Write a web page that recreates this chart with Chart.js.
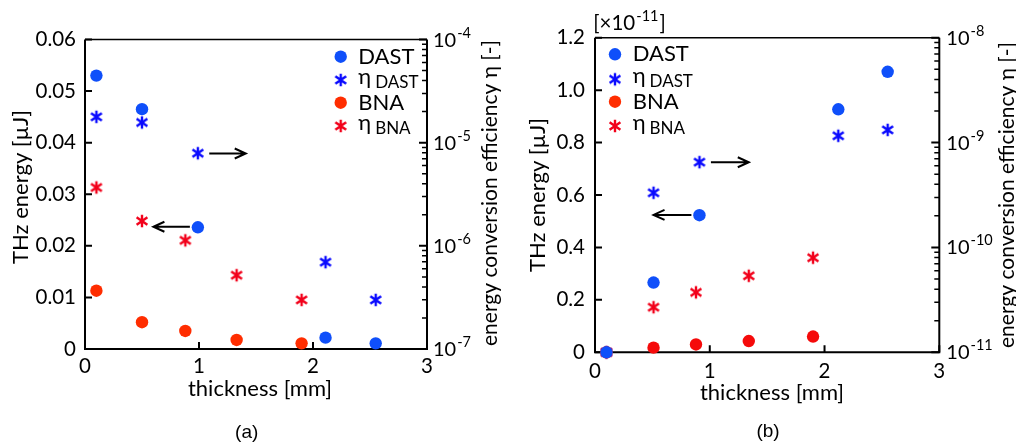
<!DOCTYPE html>
<html><head><meta charset="utf-8">
<script src="https://cdn.jsdelivr.net/npm/chart.js@4.4.0/dist/chart.umd.min.js"></script>
<style>
html,body{margin:0;padding:0;background:#fff;}
#wrap{position:relative;width:1016px;height:446px;overflow:hidden;background:#fff;}
canvas{position:absolute;top:0;}
#ca{left:0;}
#cb{left:508px;}
</style></head><body>
<div id="wrap"><canvas id="ca" width="508" height="446"></canvas><canvas id="cb" width="508" height="446"></canvas></div>
<script>
// ---------- Panel (a) data ----------
const thicknessA_DAST = [0.10, 0.50, 0.99, 2.11, 2.55];
const energyA_DAST    = [0.0530, 0.0465, 0.0236, 0.0022, 0.0011];
const etaA_DAST       = [1.78e-5, 1.57e-5, 7.9e-6, 6.95e-7, 2.99e-7];
const thicknessA_BNA  = [0.10, 0.50, 0.88, 1.33, 1.90];
const energyA_BNA     = [0.0113, 0.0052, 0.0035, 0.00175, 0.0011];
const etaA_BNA        = [3.68e-6, 1.74e-6, 1.13e-6, 5.19e-7, 2.99e-7];

// ---------- Panel (b) data ----------
const thicknessB_DAST = [0.10, 0.51, 0.91, 2.12, 2.55];
const energyB_DAST    = [0, 0.266, 0.523, 0.927, 1.07];
const etaB_DAST       = [1e-11, 3.32e-10, 6.5e-10, 1.16e-9, 1.32e-9];
const thicknessB_BNA  = [0.10, 0.51, 0.88, 1.34, 1.90];
const energyB_BNA     = [0, 0.0177, 0.030, 0.043, 0.060];
const etaB_BNA        = [1e-11, 2.69e-11, 3.73e-11, 5.37e-11, 7.98e-11];

// ---------- tick labels ----------
const xTickValues   = [0, 1, 2, 3];
const xTickLabels   = ['0', '1', '2', '3'];
const yTickValuesA  = [0, 0.01, 0.02, 0.03, 0.04, 0.05, 0.06];
const yTickLabelsA  = ['0', '0.01', '0.02', '0.03', '0.04', '0.05', '0.06'];
const yTickValuesB  = [0, 0.2, 0.4, 0.6, 0.8, 1.0, 1.2];
const yTickLabelsB  = ['0', '0.2', '0.4', '0.6', '0.8', '1.0', '1.2'];
const logExpA       = [-7, -6, -5, -4];
const logExpB       = [-11, -10, -9, -8];

// ---------- annotation arrows (data coords: x0, x1, y on left axis) ----------
const arrowsA = [[1.09, 1.41, 0.0379], [0.92, 0.60, 0.0237]];
const arrowsB = [[1.01, 1.34, 0.725], [0.84, 0.51, 0.524]];

const FONT = 'Lato, "Noto Sans", "DejaVu Sans", sans-serif';
const C_BLUE_DOT = '#0f4ffa';
const C_BLUE_STAR = '#0a0aff';
const C_ORANGE_DOT = '#ff2d00';
const C_RED_DOT = '#f50a0a';
const C_RED_STAR = '#f2001a';

function makeStar(color) {
  const c = document.createElement('canvas');
  c.width = 16; c.height = 16;
  const g = c.getContext('2d');
  g.strokeStyle = color; g.lineWidth = 2.4;
  g.beginPath();
  g.moveTo(8, 1.8); g.lineTo(8, 14.2);
  g.moveTo(2.6, 4.2); g.lineTo(13.4, 11.8);
  g.moveTo(13.4, 4.2); g.lineTo(2.6, 11.8);
  g.stroke();
  return c;
}
const starBlue = makeStar(C_BLUE_STAR);
const starRed = makeStar(C_RED_STAR);

function pts(xs, ys) { return xs.map((x, i) => ({x: x, y: ys[i]})); }

function dotSet(label, xs, ys, color) {
  return {label, data: pts(xs, ys), yAxisID: 'y', pointStyle: 'circle', pointRadius: 6.2,
    backgroundColor: color, borderWidth: 0, showLine: false, clip: false};
}
function starSet(label, xs, ys, img) {
  return {label, data: pts(xs, ys), yAxisID: 'y2', pointStyle: img, pointRadius: 8,
    borderWidth: 0, showLine: false, clip: false};
}

function drawArrow(ctx, x0, x1, y) {
  const dir = Math.sign(x1 - x0);
  ctx.beginPath();
  ctx.moveTo(x0, y); ctx.lineTo(x1, y);
  ctx.moveTo(x1 - dir * 11, y - 5); ctx.lineTo(x1, y); ctx.lineTo(x1 - dir * 11, y + 5);
  ctx.stroke();
}

function makePlugin(P) {
  return {
    id: 'deco' + P.id,
    beforeDatasetsDraw(chart) {
      const ctx = chart.ctx, a = chart.chartArea;
      const sx = chart.scales.x, sy = chart.scales.y, s2 = chart.scales.y2;
      ctx.save();
      ctx.strokeStyle = '#000';
      ctx.lineWidth = 2;
      ctx.beginPath();
      P.yTicks.forEach(v => { const y = sy.getPixelForValue(v); ctx.moveTo(a.left, y); ctx.lineTo(a.left + 7, y); });
      xTickValues.forEach(v => { const x = sx.getPixelForValue(v); ctx.moveTo(x, a.bottom); ctx.lineTo(x, a.bottom - 7); });
      P.logExp.forEach(e => { const y = s2.getPixelForValue(Math.pow(10, e)); ctx.moveTo(a.right, y); ctx.lineTo(a.right - 8, y); });
      ctx.stroke();
      ctx.lineWidth = 1.5;
      ctx.beginPath();
      for (let i = 0; i < P.logExp.length - 1; i++) {
        for (let k = 2; k <= 9; k++) {
          const y = s2.getPixelForValue(k * Math.pow(10, P.logExp[i]));
          ctx.moveTo(a.right, y); ctx.lineTo(a.right - 5, y);
        }
      }
      ctx.stroke();
      // frame
      ctx.lineWidth = 2;
      ctx.beginPath();
      ctx.moveTo(a.left, a.top); ctx.lineTo(a.left, a.bottom); ctx.lineTo(a.right, a.bottom); ctx.lineTo(a.right, a.top);
      ctx.stroke();
      ctx.lineWidth = 1.5;
      ctx.beginPath();
      ctx.moveTo(a.left, a.top); ctx.lineTo(a.right, a.top);
      ctx.stroke();
      // arrows
      ctx.lineWidth = 2;
      P.arrows.forEach(ar => drawArrow(ctx, sx.getPixelForValue(ar[0]), sx.getPixelForValue(ar[1]), sy.getPixelForValue(ar[2])));
      ctx.restore();
    },
    afterDraw(chart) {
      const ctx = chart.ctx, a = chart.chartArea;
      const sx = chart.scales.x, sy = chart.scales.y, s2 = chart.scales.y2;
      ctx.save();
      ctx.fillStyle = '#000';
      // left tick labels
      ctx.font = P.tickFont + 'px ' + FONT;
      ctx.textAlign = 'right'; ctx.textBaseline = 'middle';
      P.yTicks.forEach((v, i) => ctx.fillText(P.yLabels[i], a.left - P.yLabelGap, sy.getPixelForValue(v)));
      // x tick labels
      ctx.textAlign = 'center';
      xTickValues.forEach((v, i) => ctx.fillText(xTickLabels[i], sx.getPixelForValue(v), a.bottom + P.xLabelOff));
      // right log labels
      ctx.textAlign = 'left'; ctx.textBaseline = 'alphabetic';
      P.logExp.forEach(e => {
        const y = s2.getPixelForValue(Math.pow(10, e)) + 7;
        const x = a.right + P.rLabelGap;
        ctx.font = P.logFont + 'px ' + FONT;
        ctx.fillText('10', x, y);
        const w = ctx.measureText('10').width;
        ctx.font = P.supFont + 'px ' + FONT;
        ctx.fillText(String(e), x + w + 1, y - 9);
      });
      // axis titles
      ctx.textAlign = 'center'; ctx.textBaseline = 'middle';
      ctx.font = P.titleFont + 'px ' + FONT;
      ctx.fillText('thickness [mm]', P.xTitle[0], P.xTitle[1]);
      ctx.save(); ctx.translate(P.yTitle[0], P.yTitle[1]); ctx.rotate(-Math.PI / 2);
      ctx.fillText('THz energy [\u00B5J]', 0, 0); ctx.restore();
      ctx.font = P.rTitleFont + 'px ' + FONT;
      ctx.save(); ctx.translate(P.y2Title[0], P.y2Title[1]); ctx.rotate(-Math.PI / 2);
      ctx.fillText('energy conversion efficiency \u03B7 [-]', 0, 0); ctx.restore();
      // legend
      const L = P.legend;
      const entries = [
        {kind: 'dot', color: C_BLUE_DOT, main: 'DAST'},
        {kind: 'star', img: starBlue, main: '\u03B7', sub: 'DAST'},
        {kind: 'dot', color: C_ORANGE_DOT, main: 'BNA'},
        {kind: 'star', img: starRed, main: '\u03B7', sub: 'BNA'}
      ];
      entries.forEach((en, i) => {
        const y = L.rows[i];
        if (en.kind === 'dot') {
          ctx.fillStyle = en.color; ctx.beginPath(); ctx.arc(L.mx, y, 6.2, 0, Math.PI * 2); ctx.fill();
        } else {
          ctx.drawImage(en.img, L.mx - 8, y - 8);
        }
        ctx.fillStyle = '#000';
        ctx.textAlign = 'left'; ctx.textBaseline = 'middle';
        ctx.font = L.font + 'px ' + FONT;
        if (!en.sub) {
          ctx.fillText(en.main, L.tx, y);
        } else {
          ctx.fillText(en.main, L.tx, y - 3);
          const w = ctx.measureText(en.main).width;
          ctx.font = L.subFont + 'px ' + FONT;
          ctx.fillText(en.sub, L.tx + w + 4, y + 2.5);
        }
      });
      // caption
      ctx.fillStyle = '#000';
      ctx.font = '19px "Liberation Sans", Arial, sans-serif';
      ctx.textAlign = 'center'; ctx.textBaseline = 'middle';
      ctx.fillText(P.caption, P.capPos[0], P.capPos[1]);
      // multiplier
      if (P.mult) {
        ctx.textAlign = 'left'; ctx.textBaseline = 'alphabetic';
        ctx.font = P.tickFont + 'px ' + FONT;
        ctx.fillText('[\u00D710', P.mult[0], P.mult[1]);
        let w = ctx.measureText('[\u00D710').width;
        ctx.font = P.supFont + 'px ' + FONT;
        ctx.fillText('-11', P.mult[0] + w + 1, P.mult[1] - 9);
        const w2 = ctx.measureText('-11').width;
        ctx.font = P.tickFont + 'px ' + FONT;
        ctx.fillText(']', P.mult[0] + w + w2 + 2, P.mult[1]);
      }
      ctx.restore();
    }
  };
}

function makeChart(canvasId, P, datasets) {
  return new Chart(document.getElementById(canvasId), {
    type: 'scatter',
    data: {datasets},
    options: {
      responsive: false, animation: false, events: [],
      layout: {padding: {top: P.top, left: 0, right: 0, bottom: 0}},
      plugins: {legend: {display: false}, tooltip: {enabled: false}, title: {display: false}},
      scales: {
        x: {type: 'linear', min: 0, max: 3, ticks: {display: false}, grid: {display: false}, border: {display: false},
            afterFit(s) { s.height = P.xH; }},
        y: {type: 'linear', position: 'left', min: P.yMin, max: P.yMax, ticks: {display: false}, grid: {display: false}, border: {display: false},
            afterFit(s) { s.width = P.yW; }},
        y2: {type: 'logarithmic', position: 'right', min: Math.pow(10, P.logExp[0]), max: Math.pow(10, P.logExp[P.logExp.length - 1]),
             ticks: {display: false}, grid: {display: false}, border: {display: false},
             afterFit(s) { s.width = P.y2W; }}
      }
    },
    plugins: [makePlugin(P)]
  });
}

const PA = {
  id: 'a', top: 39.5, xH: 97, yW: 85, y2W: 81,
  yMin: 0, yMax: 0.06, yTicks: yTickValuesA, yLabels: yTickLabelsA, logExp: logExpA,
  arrows: arrowsA, tickFont: 20.5, logFont: 20, supFont: 14.5, titleFont: 22, rTitleFont: 21,
  yLabelGap: 9, xLabelOff: 17, rLabelGap: 6,
  xTitle: [260, 389], yTitle: [21, 187], y2Title: [490, 193],
  legend: {mx: 340.7, tx: 358.3, rows: [56.7, 80, 102.7, 126], font: 22, subFont: 17},
  caption: '(a)', capPos: [246.7, 433]
};
const PB = {
  id: 'b', top: 37.7, xH: 93.7, yW: 87, y2W: 76.7,
  yMin: 0, yMax: 1.2, yTicks: yTickValuesB, yLabels: yTickLabelsB, logExp: logExpB,
  arrows: arrowsB, tickFont: 20.5, logFont: 20, supFont: 14.5, titleFont: 22, rTitleFont: 21,
  yLabelGap: 10, xLabelOff: 19, rLabelGap: 7,
  xTitle: [264, 393], yTitle: [29.5, 195], y2Title: [499, 195],
  legend: {mx: 107, tx: 124.7, rows: [54.3, 79.3, 101.7, 126], font: 22, subFont: 17},
  caption: '(b)', capPos: [260, 432], mult: [85.3, 30]
};

makeChart('ca', PA, [
  dotSet('DAST', thicknessA_DAST, energyA_DAST, C_BLUE_DOT),
  dotSet('BNA', thicknessA_BNA, energyA_BNA, C_ORANGE_DOT),
  starSet('\u03B7 DAST', thicknessA_DAST, etaA_DAST, starBlue),
  starSet('\u03B7 BNA', thicknessA_BNA, etaA_BNA, starRed)
]);
makeChart('cb', PB, [
  dotSet('DAST', thicknessB_DAST, energyB_DAST, C_BLUE_DOT),
  dotSet('BNA', thicknessB_BNA, energyB_BNA, C_RED_DOT),
  starSet('\u03B7 BNA', thicknessB_BNA, etaB_BNA, starRed),
  starSet('\u03B7 DAST', thicknessB_DAST, etaB_DAST, starBlue)
]);
</script>
</body></html>
